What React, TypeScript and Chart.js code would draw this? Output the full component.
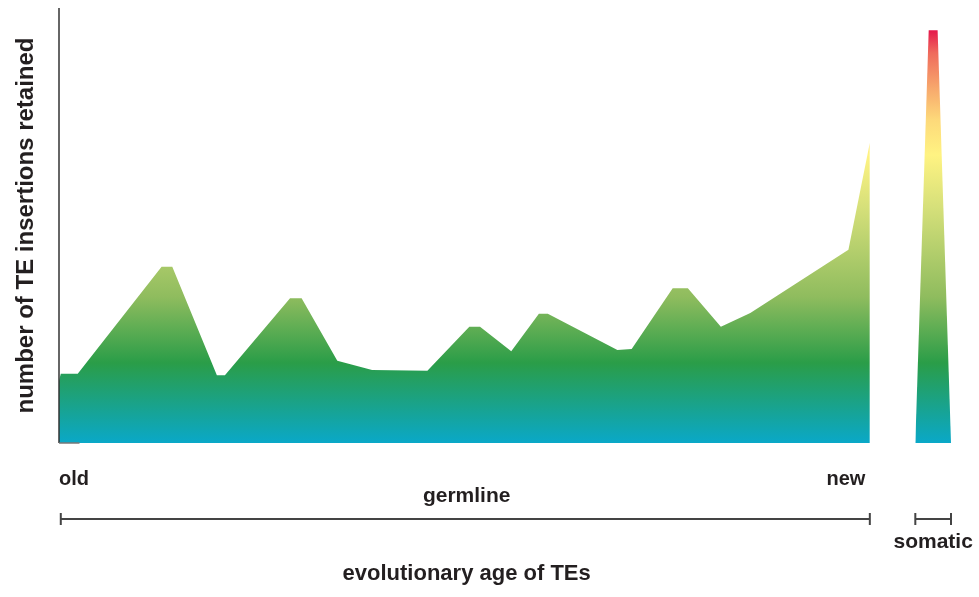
import React, { useEffect, useRef } from "react";
import { Chart, registerables } from "chart.js";

Chart.register(...registerables);

// evolutionary age (0 = old, 100 = end of somatic window) and retained insertions (relative units)
const germlineAge = [0, 0.2, 2.1, 11.5, 12.7, 17.7, 18.6, 25.9, 27.2, 31.2, 35.1, 41.3, 46.0, 47.2, 50.7, 53.8, 54.8, 62.6, 64.2, 68.8, 70.5, 74.2, 77.5, 88.5, 90.9, 90.9];
const germlineCount = [14.3, 15.9, 15.9, 40.5, 40.5, 15.6, 15.6, 33.3, 33.3, 18.9, 16.8, 16.6, 26.7, 26.7, 21.1, 29.7, 29.7, 21.4, 21.6, 35.6, 35.6, 26.7, 29.9, 44.4, 69.0, 0];
const somaticAge = [96.0, 97.5, 98.5, 100];
const somaticCount = [0, 94.9, 94.9, 0];

// colour ramp keyed to count values
const rampValues = [94.9, 89.7, 81.8, 74.3, 66.2, 54.3, 33.6, 18.4, 0];
const rampColors = ["#e5174b", "#ef6a5c", "#f7a66c", "#fdd97a", "#fff382", "#d6e07a", "#8fbc5e", "#2a9d48", "#0aa8c8"];

const labelOld = "old";
const labelNew = "new";
const labelGermline = "germline";
const labelSomatic = "somatic";
const xTitle = "evolutionary age of TEs";
const yTitle = "number of TE insertions retained";

const FONT = '"Liberation Sans", Arial, sans-serif';

function makeGradient(chart: any) {
  const { ctx, chartArea, scales } = chart;
  if (!chartArea) return "#2a9d48";
  const y = scales.y;
  const top = chartArea.top;
  const bottom = chartArea.bottom;
  const g = ctx.createLinearGradient(0, top, 0, bottom);
  rampValues.forEach((v, i) => {
    const p = y.getPixelForValue(v);
    const f = Math.min(1, Math.max(0, (p - top) / (bottom - top)));
    g.addColorStop(f, rampColors[i]);
  });
  return g;
}

const decorPlugin = {
  id: "decor",
  afterDraw(chart: any) {
    const { ctx, chartArea, scales } = chart;
    const x = scales.x;
    ctx.save();
    // y axis line
    ctx.strokeStyle = "#333";
    ctx.lineWidth = 1.5;
    ctx.beginPath();
    ctx.moveTo(chartArea.left, chartArea.top);
    ctx.lineTo(chartArea.left, chartArea.bottom);
    ctx.stroke();
    ctx.strokeStyle = "#777";
    ctx.lineWidth = 1.5;
    ctx.beginPath();
    ctx.moveTo(chartArea.left, chartArea.bottom);
    ctx.lineTo(x.getPixelForValue(2.3), chartArea.bottom);
    ctx.stroke();

    // brackets
    const by = chartArea.bottom + 76;
    const bracket = (a: number, b: number) => {
      const xa = x.getPixelForValue(a);
      const xb = x.getPixelForValue(b);
      ctx.strokeStyle = "#444";
      ctx.lineWidth = 2;
      ctx.beginPath();
      ctx.moveTo(xa, by);
      ctx.lineTo(xb, by);
      ctx.moveTo(xa, by - 6);
      ctx.lineTo(xa, by + 6);
      ctx.moveTo(xb, by - 6);
      ctx.lineTo(xb, by + 6);
      ctx.stroke();
    };
    bracket(germlineAge[1], germlineAge[germlineAge.length - 1]);
    bracket(somaticAge[0], somaticAge[somaticAge.length - 1]);

    ctx.fillStyle = "#231f20";
    ctx.font = `bold 20px ${FONT}`;
    ctx.textBaseline = "alphabetic";
    ctx.textAlign = "left";
    ctx.fillText(labelOld, x.getPixelForValue(0), chartArea.bottom + 42);
    ctx.textAlign = "right";
    ctx.fillText(labelNew, x.getPixelForValue(90.4), chartArea.bottom + 42);
    ctx.textAlign = "center";
    ctx.font = `bold 21px ${FONT}`;
    ctx.fillText(labelGermline, x.getPixelForValue(45.7), chartArea.bottom + 59);
    ctx.fillText(labelSomatic, x.getPixelForValue(98.0), chartArea.bottom + 105);

    ctx.font = `bold 22px ${FONT}`;
    ctx.fillText(xTitle, x.getPixelForValue(45.7), chartArea.bottom + 137);

    ctx.font = `bold 24px ${FONT}`;
    ctx.translate(33, (chartArea.top + chartArea.bottom) / 2);
    ctx.rotate(-Math.PI / 2);
    ctx.textAlign = "center";
    ctx.fillText(yTitle, 0, 0);
    ctx.restore();
  },
};

export default function App() {
  const ref = useRef<HTMLCanvasElement>(null);
  useEffect(() => {
    document.body.style.margin = "0";
    const canvas = ref.current!;
    const chart = new Chart(canvas, {
      type: "line",
      data: {
        datasets: [
          {
            label: "germline",
            data: germlineAge.map((a, i) => ({ x: a, y: germlineCount[i] })),
            fill: "origin",
            borderWidth: 0,
            pointRadius: 0,
            tension: 0,
            backgroundColor: (c: any) => makeGradient(c.chart),
          },
          {
            label: "somatic",
            data: somaticAge.map((a, i) => ({ x: a, y: somaticCount[i] })),
            fill: "origin",
            borderWidth: 0,
            pointRadius: 0,
            tension: 0,
            backgroundColor: (c: any) => makeGradient(c.chart),
          },
        ],
      },
      options: {
        animation: false,
        responsive: false,
        maintainAspectRatio: false,
        layout: { padding: { left: 59, right: 28, top: 8, bottom: 154 } },
        plugins: { legend: { display: false }, tooltip: { enabled: false } },
        scales: {
          x: { type: "linear", min: 0, max: 100, display: false },
          y: { type: "linear", min: 0, max: 100, display: false },
        },
      },
      plugins: [decorPlugin],
    });
    return () => chart.destroy();
  }, []);
  return (
    <div style={{ position: "absolute", left: 0, top: 0, width: 979, height: 597, background: "#fff" }}>
      <canvas ref={ref} width={979} height={597} />
    </div>
  );
}
